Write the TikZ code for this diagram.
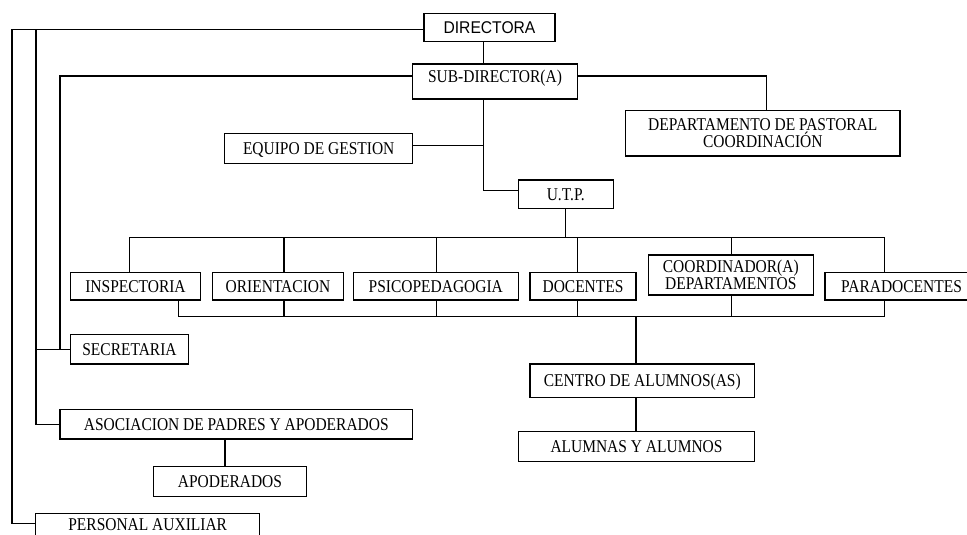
\documentclass[tikz,border=0pt]{standalone}
\usepackage{fontspec}
\setmainfont{Liberation Serif}[FakeStretch=0.86]
\newfontfamily\dirfont{Liberation Sans}[FakeStretch=0.92]
\begin{document}
\begin{tikzpicture}[x=1pt,y=-1pt,
  line width=1.3pt,
  box/.style={draw, line width=1.3pt, inner sep=0pt, font=\fontsize{18}{16}\selectfont, text height=12pt, text depth=0pt},
  mbox/.style={draw, line width=1.3pt, inner sep=0pt, align=center}]
\fill[white] (0,0) rectangle (967,535);
\useasboundingbox (0,0) rectangle (967,535);

% boxes
\node[box, font=\fontsize{17}{16}\selectfont\dirfont, minimum width=131pt, minimum height=28pt] (dir) at (489.5,27.7) {DIRECTORA};
\node[box, minimum width=164.6pt, minimum height=35pt, text depth=9pt] (sub) at (495,81.5) {SUB-DIRECTOR(A)};
\node[box, minimum width=188pt, minimum height=30pt] (eq) at (318.7,148.3) {EQUIPO DE GESTION\hspace{14.4pt}};
\node[mbox, font=\fontsize{18}{15}\selectfont, minimum width=274.3pt, minimum height=45.3pt] (dept) at (762.8,133.35) {DEPARTAMENTO DE PASTORAL\\COORDINACIÓN};
\node[box, minimum width=95pt, minimum height=28.3pt] (utp) at (565.8,194.15) {U.T.P.};

\node[box, minimum width=130.4pt, minimum height=27.7pt] (insp) at (135.5,286.15) {INSPECTORIA};
\node[box, minimum width=130.6pt, minimum height=27.7pt] (orient) at (278,286.15) {ORIENTACION};
\node[box, minimum width=165pt, minimum height=27.7pt] (psico) at (435.8,286.15) {PSICOPEDAGOGIA};
\node[box, minimum width=106pt, minimum height=27.7pt] (doc) at (583,286.15) {DOCENTES};
\node[mbox, font=\fontsize{18}{16.7}\selectfont, minimum width=165pt, minimum height=40pt] (coord) at (730.8,275) {COORDINADOR(A)\\DEPARTAMENTOS};
\node[box, minimum width=153pt, minimum height=27.7pt] (para) at (901.5,286.15) {PARADOCENTES};

\node[box, minimum width=118.4pt, minimum height=29.7pt] (secr) at (129.5,349.15) {SECRETARIA};
\node[box, minimum width=352.7pt, minimum height=29.7pt] (asoc) at (236.3,424.15) {ASOCIACION DE PADRES Y APODERADOS};
\node[box, minimum width=153.4pt, minimum height=30.4pt] (apod) at (230,481.5) {APODERADOS};
\node[box, minimum width=224pt, minimum height=27.8pt, text depth=5pt] (pers) at (147.7,527.2) {PERSONAL AUXILIAR};
\node[box, minimum width=224.7pt, minimum height=33.7pt] (centro) at (642.3,380.85) {CENTRO DE ALUMNOS(AS)};
\node[box, minimum width=236.4pt, minimum height=30.4pt] (alum) at (636.5,446.5) {ALUMNAS Y ALUMNOS};

% helper coordinates
\coordinate (c1) at (12,0);
\coordinate (c2) at (36,0);
\coordinate (c3) at (60,0);
\coordinate (trunk) at (483.3,0);
\coordinate (busT) at (0,237.3);
\coordinate (busB) at (0,316.7);
\coordinate (dl) at ([yshift=-1.6pt]dir.west);
\coordinate (pl) at ([yshift=3.5pt]pers.west);

% left side connectors
\draw (dl) -| (c1 |- pl) -- (pl);
\draw (c2 |- dl) |- (asoc.west);
\draw (c2 |- secr.west) -- (secr.west);
\draw ([yshift=5.5pt]sub.west) -| (c3 |- secr.west);

% top trunk
\draw (dir.south -| trunk) -- (sub.north -| trunk);
\draw (sub.south -| trunk) |- ([yshift=3.4pt]utp.west);
\draw ([yshift=3pt]eq.east) -- ([yshift=3pt]eq.east -| trunk);
\draw ([yshift=5.5pt]sub.east) -| ([xshift=3.9pt]dept.north);

% top bus
\draw (utp.south) -- (utp.south |- busT);
\draw ([xshift=-6.2pt]insp.north) |- ([xshift=-17.2pt]para.north |- busT) -- ([xshift=-17.2pt]para.north);
\draw ([xshift=6pt]orient.north) -- ([xshift=6pt]orient.north |- busT);
\draw ([xshift=0.5pt]psico.north) -- ([xshift=0.5pt]psico.north |- busT);
\draw ([xshift=-5.7pt]doc.north) -- ([xshift=-5.7pt]doc.north |- busT);
\draw ([xshift=0.9pt]coord.north) -- ([xshift=0.9pt]coord.north |- busT);

% bottom bus
\draw ([xshift=42.8pt]insp.south) |- ([xshift=-17.2pt]para.south |- busB) -- ([xshift=-17.2pt]para.south);
\draw ([xshift=6pt]orient.south) -- ([xshift=6pt]orient.south |- busB);
\draw ([xshift=0.5pt]psico.south) -- ([xshift=0.5pt]psico.south |- busB);
\draw ([xshift=-5.7pt]doc.south) -- ([xshift=-5.7pt]doc.south |- busB);
\draw ([xshift=0.9pt]coord.south) -- ([xshift=0.9pt]coord.south |- busB);
\draw ([xshift=-6.3pt]centro.north |- busB) -- ([xshift=-6.3pt]centro.north);
\draw ([xshift=-6.3pt]centro.south) -- ([xshift=-6.3pt]centro.south |- alum.north);
\draw ([xshift=-11.3pt]asoc.south) -- ([xshift=-11.3pt]asoc.south |- apod.north);
\end{tikzpicture}
\end{document}
